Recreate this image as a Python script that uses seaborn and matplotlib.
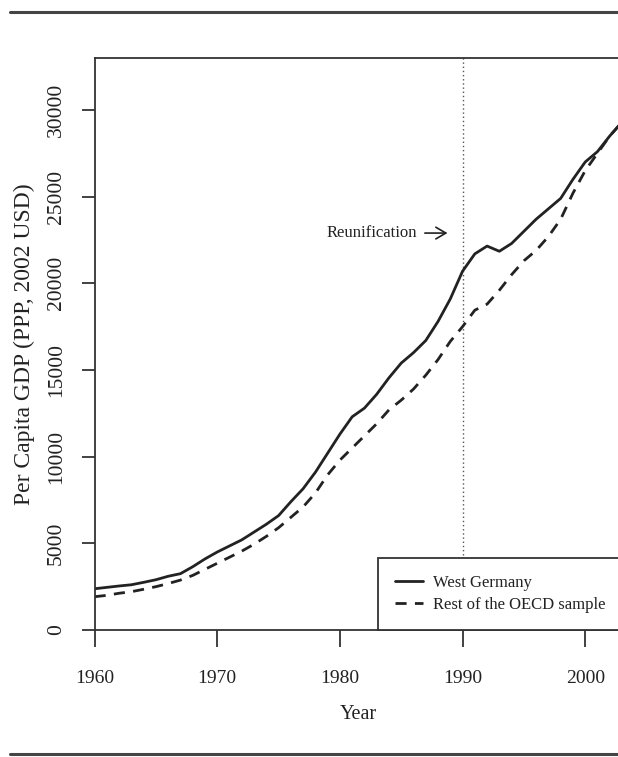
'''
Per capita GDP trend: West Germany against the rest of the OECD sample
'''
import pandas as pd
import matplotlib.pyplot as plt
from matplotlib.lines import Line2D
import seaborn as sns

# values
years = list(range(1960, 2004))
west_germany = [2380, 2460, 2540, 2610, 2750, 2900, 3100, 3250, 3650, 4100,
                4500, 4850, 5200, 5650, 6100, 6600, 7400, 8150, 9100, 10200,
                11300, 12300, 12800, 13600, 14550, 15400, 16000, 16700, 17800, 19100,
                20700, 21700, 22150, 21850, 22300, 23000, 23700, 24300, 24900, 26000,
                27000, 27600, 28500, 29300]
rest_oecd = [1920, 2000, 2120, 2210, 2350, 2500, 2680, 2880, 3150, 3500,
             3850, 4200, 4550, 4950, 5400, 5900, 6500, 7100, 7900, 8950,
             9800, 10500, 11200, 11900, 12700, 13260, 13900, 14700, 15600, 16650,
             17500, 18450, 18800, 19600, 20500, 21300, 21900, 22700, 23700, 25200,
             26500, 27500, 28500, 29300]
series_names = ['West Germany', 'Rest of the OECD sample']
x_ticks = [1960, 1970, 1980, 1990, 2000]
y_ticks = [0, 5000, 10000, 15000, 20000, 25000, 30000]
event_year = 1990

df = pd.DataFrame({'Year': years, series_names[0]: west_germany, series_names[1]: rest_oecd})

sns.set_theme(style='ticks')
plt.rcParams['font.family'] = ['Liberation Serif', 'DejaVu Serif']
ink = '#222222'

fig = plt.figure(figsize=(6.18, 7.57), dpi=100)
# axes box runs slightly past the right edge of the picture, as in the cropped reference
ax = fig.add_axes([94.6 / 618, 127 / 757, (622 - 94.6) / 618, 572 / 757])

'''
the two series, solid and dashed
'''
sns.lineplot(data=df, x='Year', y=series_names[0], ax=ax, color=ink, lw=2.0,
             linestyle='-', label=series_names[0])
sns.lineplot(data=df, x='Year', y=series_names[1], ax=ax, color=ink, lw=2.0,
             linestyle=(0, (4, 3)), label=series_names[1])

ax.axvline(event_year, color='#555555', lw=1.0, linestyle=(0, (1, 2)), zorder=1)

ax.text(1986.3, 22900, 'Reunification', ha='right', va='center', fontsize=12, color=ink)
ax.annotate('', xy=(1989.0, 22900), xytext=(1986.7, 22900),
            arrowprops=dict(arrowstyle='->,head_length=0.6,head_width=0.35', lw=1.2, color=ink))

ax.set_xlim(1960, 2003)
ax.set_ylim(0, 33000)
ax.set_xticks(x_ticks)
ax.set_yticks(y_ticks)
ax.set_xticklabels([str(t) for t in x_ticks], fontsize=14, color=ink)
ax.set_yticklabels([str(t) for t in y_ticks], fontsize=15.5, color=ink,
                   rotation=90, va='center')
ax.tick_params(axis='x', length=12, width=1.3, pad=17, color='#333333')
ax.tick_params(axis='y', length=9.5, width=1.3, pad=11, color='#333333')
ax.set_xlabel('Year', fontsize=14.5, color=ink, labelpad=13)
ax.set_ylabel('Per Capita GDP (PPP, 2002 USD)', fontsize=17, color=ink, labelpad=9)

for side in ['left', 'right', 'top', 'bottom']:
    ax.spines[side].set_visible(True)
    ax.spines[side].set_color('#333333')
    ax.spines[side].set_linewidth(1.3)

leg = ax.legend(loc='lower right', borderaxespad=0, fontsize=12, frameon=True,
                fancybox=False, edgecolor='#333333', framealpha=1,
                handlelength=1.7, handletextpad=0.6, borderpad=1.0, labelspacing=0.4)
leg.get_frame().set_linewidth(1.3)
for t in leg.get_texts():
    t.set_color(ink)

'''
rules above and below the figure, as on the printed page
'''
fig.add_artist(Line2D([10 / 618, 1], [1 - 12 / 757, 1 - 12 / 757], color='#444444', lw=2.2))
fig.add_artist(Line2D([10 / 618, 1], [3 / 757, 3 / 757], color='#444444', lw=2.2))

fig.savefig('out.png', dpi=100)
